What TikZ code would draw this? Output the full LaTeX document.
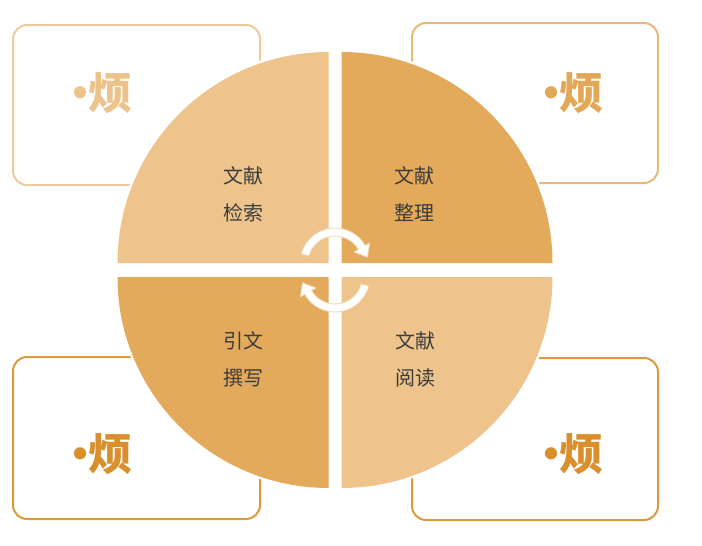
\documentclass[tikz,border=0pt]{standalone}
\usepackage{fontspec}
\newfontfamily\cjk{Noto Sans CJK SC}
\definecolor{quadLight}{HTML}{EEC48C}
\definecolor{quadDark}{HTML}{E4AA5C}
\definecolor{cardPale}{HTML}{EDCB9C}
\definecolor{cardMid}{HTML}{E8B878}
\definecolor{cardDeep}{HTML}{DC9A3E}
\definecolor{fanPale}{HTML}{EBC38B}
\definecolor{fanMid}{HTML}{E2A858}
\definecolor{fanDeep}{HTML}{D98F2B}
\definecolor{arrowEdge}{HTML}{F1D7B3}
\definecolor{textGray}{HTML}{3C3C3C}
\begin{document}
\begin{tikzpicture}[x=1pt, y=-1pt]
%styles
\tikzstyle{card}=[line width=2pt, rounded corners=14pt]
\tikzstyle{quadText}=[text=textGray, align=center, font=\cjk\fontsize{20}{37}\selectfont]
\tikzstyle{fanText}=[font=\cjk\bfseries\fontsize{44}{44}\selectfont]
\tikzstyle{cycleArrow}=[fill=white, draw=arrowEdge, line width=0.8pt, line join=round]
\useasboundingbox (0,0) rectangle (702,546);
%cards
\draw[card, draw=cardPale] (13,25) rectangle (260,185);
\draw[card, draw=cardMid] (412,23) rectangle (658,183);
\draw[card, draw=cardDeep] (13,357) rectangle (260,519);
\draw[card, draw=cardDeep] (412,358) rectangle (658,520);
\node[fanText, text=fanPale] (fanA) at (95,93) {·\kern-14pt 烦};
\node[fanText, text=fanMid] (fanB) at (566,93) {·\kern-14pt 烦};
\node[fanText, text=fanDeep] (fanC) at (95,454) {·\kern-14pt 烦};
\node[fanText, text=fanDeep] (fanD) at (566,454) {·\kern-14pt 烦};
%figure
\fill[white] (335,270) circle (222);
\fill[quadLight] (328.5,263) -- ++(-211,0) arc[start angle=180, end angle=270, radius=211] -- cycle;
\fill[quadDark] (341.5,263) -- ++(0,-211) arc[start angle=270, end angle=360, radius=211] -- cycle;
\fill[quadLight] (341.5,277) -- ++(211,0) arc[start angle=0, end angle=90, radius=211] -- cycle;
\fill[quadDark] (328.5,277) -- ++(0,211) arc[start angle=90, end angle=180, radius=211] -- cycle;
%cycle
\begin{scope}[shift={(335,263)}]
\filldraw[cycleArrow] (195:35) arc[start angle=195, end angle=330, radius=35] -- (330:40)
  -- (350:33) -- (330:22) -- (330:27) arc[start angle=330, end angle=195, radius=27] -- cycle;
\end{scope}
\begin{scope}[shift={(335,277)}]
\filldraw[cycleArrow] (15:35) arc[start angle=15, end angle=150, radius=35] -- (150:40)
  -- (170:33) -- (150:22) -- (150:27) arc[start angle=150, end angle=15, radius=27] -- cycle;
\end{scope}
%text
\node[quadText] (search) at (243,194) {文献\\检索};
\node[quadText] (sort) at (414,194) {文献\\整理};
\node[quadText] (write) at (243,359) {引文\\撰写};
\node[quadText] (read) at (415,359) {文献\\阅读};
\end{tikzpicture}
\end{document}
